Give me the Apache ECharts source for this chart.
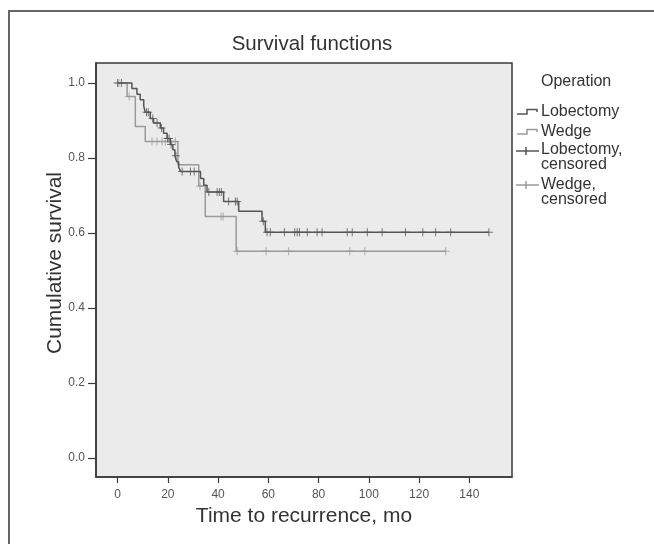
<!DOCTYPE html>
<html>
<head>
<meta charset="utf-8">
<title>Survival functions</title>
<script src="https://cdn.jsdelivr.net/npm/echarts@6/dist/echarts.min.js"></script>
<style>
  html, body { margin: 0; padding: 0; background: #fff; }
  #main { width: 654px; height: 544px; }
</style>
</head>
<body>
<div id="main"></div>
<script>
// Lobectomy: event times (mo) and survival after each event
const lobEventTimes = [5.7, 7.7, 9.0, 10.4, 11.0, 13.0, 14.3, 17.0, 18.3, 19.7, 21.0, 22.0, 22.8, 23.5, 24.3, 25.0, 33.0, 34.3, 35.6, 42.2, 48.2, 57.5, 58.8];
const lobSurvival = [0.985, 0.970, 0.955, 0.938, 0.922, 0.905, 0.893, 0.880, 0.866, 0.852, 0.836, 0.822, 0.806, 0.790, 0.776, 0.764, 0.745, 0.727, 0.709, 0.684, 0.658, 0.631, 0.602];
const lobCensorTimes = [0, 1.5, 11.5, 12.2, 14.0, 15.7, 17.5, 19.9, 20.5, 21.3, 23.2, 25.7, 29.0, 30.5, 36.3, 39.6, 40.5, 41.3, 44.2, 46.9, 47.6, 58.0, 59.5, 60.8, 66.4, 70.5, 71.5, 72.4, 75.5, 79.4, 81.4, 91.4, 93.4, 99.4, 105.3, 114.6, 121.5, 126.6, 132.6, 147.8];
// Wedge
const wedgeEventTimes = [3.8, 7.05, 11.0, 24.0, 32.3, 34.9, 47.2];
const wedgeSurvival = [0.964, 0.884, 0.844, 0.782, 0.725, 0.644, 0.551];
const wedgeCensorTimes = [0.5, 4.6, 13.7, 15.7, 17.7, 19.0, 23.0, 32.8, 41.2, 42.0, 47.6, 59.1, 68.1, 92.4, 98.4, 130.6];
// axis ticks
const xTicks = [0, 20, 40, 60, 80, 100, 120, 140];
const yTicks = [0, 0.2, 0.4, 0.6, 0.8, 1.0];

const lobColor = '#555555';
const wedgeColor = '#9a9a9a';
const plusPath = 'path://M0,3.5h8v1h-8z M3.5,0h1v8h-1z';

// build the step curve from events
function stepLine(times, surv, end) {
    let pts = [[0, 1]];
    let s = 1;
    times.forEach((t, i) => {
        pts.push([t, s]);
        s = surv[i];
        pts.push([t, s]);
    });
    pts.push([end, s]);
    return pts;
}
// survival level at time t
function survAt(times, surv, t) {
    let s = 1;
    times.forEach((et, i) => {
        if (et <= t) s = surv[i];
    });
    return s;
}

let myChart = echarts.init(document.getElementById('main'));
const font = '"Liberation Sans", Arial, sans-serif';

let option = {
    animation: false,
    backgroundColor: '#ffffff',
    textStyle: { fontFamily: font },
    title: {
        text: 'Survival functions',
        left: 307,
        top: 29,
        textAlign: 'center',
        textStyle: { fontSize: 20.5, fontWeight: 'normal', color: '#333', fontFamily: font }
    },
    grid: {
        left: 96, top: 63, width: 416, height: 414,
        show: true,
        backgroundColor: '#ebebec',
        borderColor: '#3a3a3a',
        borderWidth: 1.5
    },
    xAxis: {
        type: 'value',
        min: -8.6,
        max: 157,
        splitLine: { show: false },
        axisLine: { show: true, onZero: false, lineStyle: { color: '#3a3a3a', width: 1.5 } },
        axisTick: { show: true, length: 6, customValues: xTicks, lineStyle: { color: '#3a3a3a', width: 1.2 } },
        axisLabel: { customValues: xTicks, margin: 12, fontSize: 12, color: '#555' },
        name: 'Time to recurrence, mo',
        nameLocation: 'middle',
        nameGap: 28,
        nameTextStyle: { fontSize: 21, color: '#333' }
    },
    yAxis: {
        type: 'value',
        min: -0.051,
        max: 1.053,
        splitLine: { show: false },
        axisLine: { show: true, onZero: false, lineStyle: { color: '#3a3a3a', width: 1.5 } },
        axisTick: { show: true, length: 8, customValues: yTicks, lineStyle: { color: '#3a3a3a', width: 1.2 } },
        axisLabel: {
            customValues: yTicks, margin: 11, fontSize: 12, color: '#555',
            formatter: v => v.toFixed(1)
        },
        name: 'Cumulative survival',
        nameLocation: 'middle',
        nameMoveOverlap: false,
        nameGap: 30,
        nameTextStyle: { fontSize: 21, color: '#333', padding: [0, 0, 0, 14] }
    },
    graphic: [
        // outer frame
        { type: 'polyline', shape: { points: [[9, 544], [9, 11], [654, 11]] }, style: { stroke: '#666', lineWidth: 2, fill: null } },
        // legend
        { type: 'text', style: { x: 541, y: 82, text: 'Operation', font: '16px ' + font, fill: '#333', verticalAlign: 'middle' } },
        { type: 'polyline', shape: { points: [[517, 114], [527, 114], [527, 109.5], [537, 109.5], [537, 112]] }, style: { stroke: lobColor, lineWidth: 1.5, fill: null } },
        { type: 'text', style: { x: 541, y: 112, text: 'Lobectomy', font: '16px ' + font, fill: '#333', verticalAlign: 'middle' } },
        { type: 'polyline', shape: { points: [[517, 134], [527, 134], [527, 129.5], [537, 129.5], [537, 132]] }, style: { stroke: wedgeColor, lineWidth: 1.5, fill: null } },
        { type: 'text', style: { x: 541, y: 132, text: 'Wedge', font: '16px ' + font, fill: '#333', verticalAlign: 'middle' } },
        { type: 'line', shape: { x1: 516, y1: 151, x2: 539, y2: 151 }, style: { stroke: lobColor, lineWidth: 1.5 } },
        { type: 'line', shape: { x1: 526, y1: 147, x2: 526, y2: 155 }, style: { stroke: lobColor, lineWidth: 1.5 } },
        { type: 'text', style: { x: 541, y: 150, text: 'Lobectomy,', font: '16px ' + font, fill: '#333', verticalAlign: 'middle' } },
        { type: 'text', style: { x: 541, y: 165, text: 'censored', font: '16px ' + font, fill: '#333', verticalAlign: 'middle' } },
        { type: 'line', shape: { x1: 516, y1: 185, x2: 539, y2: 185 }, style: { stroke: wedgeColor, lineWidth: 1.5 } },
        { type: 'line', shape: { x1: 526, y1: 181, x2: 526, y2: 189 }, style: { stroke: wedgeColor, lineWidth: 1.5 } },
        { type: 'text', style: { x: 541, y: 185, text: 'Wedge,', font: '16px ' + font, fill: '#333', verticalAlign: 'middle' } },
        { type: 'text', style: { x: 541, y: 200, text: 'censored', font: '16px ' + font, fill: '#333', verticalAlign: 'middle' } }
    ],
    series: [
        {
            name: 'Wedge',
            type: 'line',
            data: stepLine(wedgeEventTimes, wedgeSurvival, wedgeCensorTimes[wedgeCensorTimes.length - 1]),
            symbol: 'none',
            lineStyle: { color: wedgeColor, width: 1.5 },
            z: 2
        },
        {
            name: 'Lobectomy',
            type: 'line',
            data: stepLine(lobEventTimes, lobSurvival, lobCensorTimes[lobCensorTimes.length - 1]),
            symbol: 'none',
            lineStyle: { color: lobColor, width: 1.5 },
            z: 3
        },
        {
            name: 'Wedge, censored',
            type: 'scatter',
            data: wedgeCensorTimes.map(t => [t, survAt(wedgeEventTimes, wedgeSurvival, t)]),
            symbol: plusPath,
            symbolSize: 8,
            itemStyle: { color: wedgeColor },
            z: 4
        },
        {
            name: 'Lobectomy, censored',
            type: 'scatter',
            data: lobCensorTimes.map(t => [t, survAt(lobEventTimes, lobSurvival, t)]),
            symbol: plusPath,
            symbolSize: 8,
            itemStyle: { color: lobColor },
            z: 5
        }
    ]
};
myChart.setOption(option);
</script>
</body>
</html>
